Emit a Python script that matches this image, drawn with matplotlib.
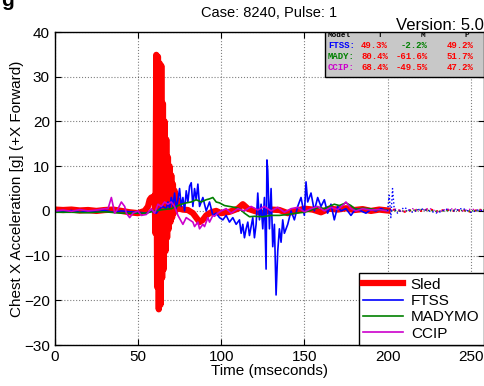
import matplotlib
matplotlib.use("Agg")
import matplotlib.pyplot as plt
from matplotlib.patches import Rectangle

plt.rcParams['font.family'] = ['Liberation Sans', 'DejaVu Sans']

# ---- data (time in ms, acceleration in g) ----
sled_t = [0, 5, 10, 15, 20, 25, 30, 35, 40, 45, 50, 54, 56, 57, 58, 59, 60,
          60.5, 61, 61.5, 62, 62.5, 63, 63.5, 64, 64.5, 65, 65.5, 66, 66.5,
          67, 67.5, 68, 68.5, 69, 69.5, 70, 70.5, 71, 71.5, 72, 72.5, 73,
          74, 75, 77, 80, 83, 85, 87, 89, 91, 94, 97, 100, 105, 110, 113,
          116, 120, 125, 130, 135, 140, 145, 150, 155, 160, 165, 170, 175,
          180, 185, 190, 195, 200]
sled_v = [0.3, 0.2, 0.3, 0.1, 0.2, 0.0, 0.2, 0.3, 0.0, -0.3, -0.5, 0.0, 1.0,
          2.5, 3.0, 2.0, 3.5,
          -5.0, 34.9, -17.0, 34.5, -22.0, 33.0, -21.0, 32.5, -15.0, 24.0,
          -13.0, 20.0, -9.0, 16.0, -6.0, 12.0, -4.0, 10.0, -2.5, 8.0,
          -1.5, 6.0, -0.5, 4.5, 0.0, 3.0,
          1.5, 0.5, 0.3, 0.2, -0.5, -1.5, -2.5, -2.0, -1.0, -0.3, 0.0, -0.5,
          -0.2, 0.5, 1.5, 0.5, 0.0, -0.5, 0.3, 0.2, -0.5, 0.0, 0.5, 0.3,
          -0.3, 0.5, 0.3, 0.6, 0.2, 0.4, 0.0, 0.3, 0.1]
sled_tail_t = [200, 205, 210, 215, 220, 225, 230, 235, 240, 245, 250, 255, 258]
sled_tail_v = [0.1, 0.3, -0.2, 0.2, 0.0, 0.4, -0.1, 0.3, 0.0, 0.2, -0.2, 0.3, 0.1]

ftss_t = [0, 5, 10, 15, 20, 25, 30, 35, 40, 45, 50, 55, 58, 61, 63, 65, 67,
          68, 69, 70, 71, 72, 73, 74, 75, 76, 77, 78, 79, 80, 81, 82, 83, 84,
          85, 86, 87, 89, 91, 93, 95, 97, 99, 101, 103, 105, 107, 109, 111,
          112, 113, 114, 115, 116, 117, 118, 119, 120, 121, 122, 123, 124,
          125, 126, 127, 127.5, 128, 129, 130, 131, 132, 133, 134, 135, 136,
          137, 138, 140, 142, 144, 146, 148, 150, 151, 152, 154, 156, 158,
          160, 162, 164, 166, 168, 170, 172, 175, 178, 181, 184, 187, 190,
          193, 196, 200]
ftss_v = [0.0, -0.2, 0.1, -0.3, 0.0, -0.2, 0.1, -0.3, 0.0, -0.2, -0.3, -0.5,
          0.0, -0.5, 0.5, 1.0, 0.5, 2.0, 0.5, 3.0, 1.0, 4.0, 0.5, 2.5, 5.0,
          1.0, 3.0, 0.0, 4.5, 2.0, 5.5, 6.3, 1.0, 5.0, 2.5, 6.0, 1.0, 3.0,
          0.0, 2.0, -1.0, -0.5, -1.5, -2.0, -1.0, -2.5, -1.5, -3.0, -2.0,
          -5.0, -3.0, -6.0, -4.0, -2.5, -5.5, -3.5, -1.5, -6.0, -3.0, 4.0,
          -2.0, 1.5, -4.0, 3.0, -13.0, 11.4, 9.0, -4.0, 5.0, -8.0, -3.0,
          -18.8, -9.0, -4.0, -7.0, -2.0, -5.0, -3.0, 0.0, -2.0, 1.0, 3.0,
          -1.0, 6.5, 2.0, 4.0, 0.0, 3.0, 1.0, 2.5, -0.5, 1.5, -2.0, 1.0,
          0.0, 0.5, -1.0, 0.5, 0.0, -0.5, 0.3, 0.0, 0.5, 0.0]
ftss_tail_t = [200, 201, 202, 203, 204, 206, 210, 215, 220, 225, 230, 235,
               240, 245, 250, 255, 258]
ftss_tail_v = [0.0, 3.5, -1.5, 5.0, 0.5, -0.5, 0.8, -0.3, 0.5, 0.0, -0.5,
               0.4, 0.0, 0.6, -0.3, 0.2, 0.0]

mady_t = [0, 10, 20, 30, 40, 50, 55, 60, 65, 70, 73, 76, 79, 82, 85, 88, 91,
          93, 95, 97, 99, 102, 105, 108, 111, 114, 117, 120, 125, 130, 135,
          140, 145, 150, 153, 156, 159, 162, 165, 168, 171, 175, 178, 181,
          185, 189, 193, 197, 200]
mady_v = [-0.3, -0.3, -0.4, -0.2, -0.5, -0.5, -0.5, 0.0, 0.3, 0.5, 1.0, 1.5,
          1.8, 2.0, 2.5, 2.0, 2.5, 2.7, 3.0, 2.0, 1.8, 1.2, 1.0, 0.8, 0.5,
          -0.5, -1.3, -1.2, -1.3, -1.0, -1.0, -0.8, -0.5, -0.3, 0.0, 0.5,
          0.8, 0.5, 1.0, 1.5, 1.2, 1.8, 1.2, 0.3, 0.6, 0.5, 0.3, 0.2, 0.1]
mady_tail_t = [200, 210, 220, 230, 240, 250, 258]
mady_tail_v = [0.1, 0.0, 0.3, -0.1, 0.2, 0.0, 0.2]

ccip_t = [0, 5, 10, 15, 20, 25, 30, 32, 34, 36, 38, 40, 42, 43, 45, 47, 50,
          52, 55, 58, 60, 62, 64, 66, 68, 70, 72, 74, 77, 79, 81, 83, 84, 86,
          87, 89, 90, 92, 93, 95, 96, 98, 100, 103, 106, 110, 114, 118, 122,
          126, 130, 134, 138, 142, 146, 150, 154, 158, 162, 166, 170, 173,
          175, 178, 181, 185, 190, 195, 200]
ccip_v = [0.0, 0.2, -0.1, 0.3, 0.0, 0.2, 0.5, 0.5, 3.0, -0.5, 0.5, 2.0, 1.0,
          -0.5, -1.5, -0.5, 0.0, -1.0, -0.8, 0.5, -0.5, 1.5, 1.0, 2.0, 1.5,
          2.0, 1.0, -1.0, -3.0, -1.5, -2.0, -2.5, -3.5, -2.5, -4.0, -3.0,
          -3.5, -1.5, -2.5, -1.0, -1.2, -0.5, 0.0, 0.5, -0.5, 0.5, 0.0, 1.0,
          0.2, 1.0, 0.0, 0.8, -0.3, 0.5, 0.8, -0.2, 0.5, 1.0, 0.0, 0.8, 0.3,
          1.2, 2.0, 0.5, 0.0, 0.5, 0.2, 0.3, 0.0]
ccip_tail_t = [200, 205, 210, 215, 220, 225, 230, 235, 240, 245, 250, 255, 258]
ccip_tail_v = [0.0, 0.4, -0.2, 0.5, 0.1, 0.6, -0.2, 0.3, 0.5, 0.0, 0.4, 0.2, 0.0]

# correlation table
tbl_header = ['T', 'M', 'P']
tbl_models = ['FTSS:', 'MADY:', 'CCIP:']
tbl_T = ['49.3%', '80.4%', '68.4%']
tbl_M = ['-2.2%', '-61.6%', '-49.5%']
tbl_P = ['49.2%', '51.7%', '47.2%']

fig = plt.figure(figsize=(4.85, 3.86), dpi=100)
ax = fig.add_axes([0.113, 0.106, 0.885, 0.811])

ax.plot(sled_t, sled_v, color='red', lw=4.5, label='Sled')
ax.plot(ftss_t, ftss_v, color='blue', lw=1.2, label='FTSS')
ax.plot(mady_t, mady_v, color='green', lw=1.2, label='MADYMO')
ax.plot(ccip_t, ccip_v, color='#cc00cc', lw=1.2, label='CCIP')
ax.plot(sled_tail_t, sled_tail_v, color='red', lw=1.5, ls=':')
ax.plot(mady_tail_t, mady_tail_v, color='green', lw=1.0, ls=':')
ax.plot(ccip_tail_t, ccip_tail_v, color='#cc00cc', lw=1.0, ls=':')
ax.plot(ftss_tail_t, ftss_tail_v, color='blue', lw=1.0, ls=':')

ax.set_xlim(0, 258)
ax.set_ylim(-30, 40)
ax.set_xticks([0, 50, 100, 150, 200, 250])
ax.set_yticks([-30, -20, -10, 0, 10, 20, 30, 40])
ax.grid(True, color='black', ls=':', lw=0.8, alpha=0.5)
ax.tick_params(direction='in', top=True, right=True, labelsize=11, length=4)
for s in ax.spines.values():
    s.set_linewidth(1.0)

ax.set_xlabel('Time (mseconds)', fontsize=11, labelpad=0)
ax.set_ylabel('Chest X Acceleration [g] (+X Forward)', fontsize=11, labelpad=0)
ax.set_title('Case: 8240, Pulse: 1', fontsize=10.5, pad=11)
fig.text(0.998, 0.915, 'Version: 5.0', ha='right', va='bottom', fontsize=12)
fig.text(0.002, 0.998, 'g', ha='left', va='center', fontsize=15, fontweight='bold')

leg = ax.legend(loc='lower right', borderaxespad=0, fontsize=11, fancybox=False,
                framealpha=1, edgecolor='black', handlelength=2.6,
                borderpad=0.3, labelspacing=0.15, handletextpad=0.5)
leg.get_frame().set_linewidth(1.0)

# table box in upper right
ax.add_patch(Rectangle((0.629, 0.856), 0.371, 0.144, transform=ax.transAxes,
                       facecolor='#c8c8c8', edgecolor='black', lw=1.0, zorder=5))
mono = dict(family='Liberation Mono', fontweight='bold', zorder=6,
            transform=ax.transAxes, va='center')
ax.text(0.636, 0.99, 'Model', color='black', ha='left', fontsize=5.5, **mono)
for x, h in zip([0.758, 0.858, 0.96], tbl_header):
    ax.text(x, 0.99, h, color='black', ha='center', fontsize=5.5, **mono)
row_cols = ['blue', 'green', '#cc00cc']
row_y = [0.957, 0.922, 0.887]
for i in range(3):
    ax.text(0.636, row_y[i], tbl_models[i], color=row_cols[i], ha='left',
            fontsize=6.5, **mono)
    ax.text(0.776, row_y[i], tbl_T[i], color='red', ha='right', fontsize=6.5, **mono)
    mcol = 'green' if i == 0 else 'red'
    ax.text(0.869, row_y[i], tbl_M[i], color=mcol, ha='right', fontsize=6.5, **mono)
    ax.text(0.976, row_y[i], tbl_P[i], color='red', ha='right', fontsize=6.5, **mono)

fig.savefig('out.png', dpi=100)
